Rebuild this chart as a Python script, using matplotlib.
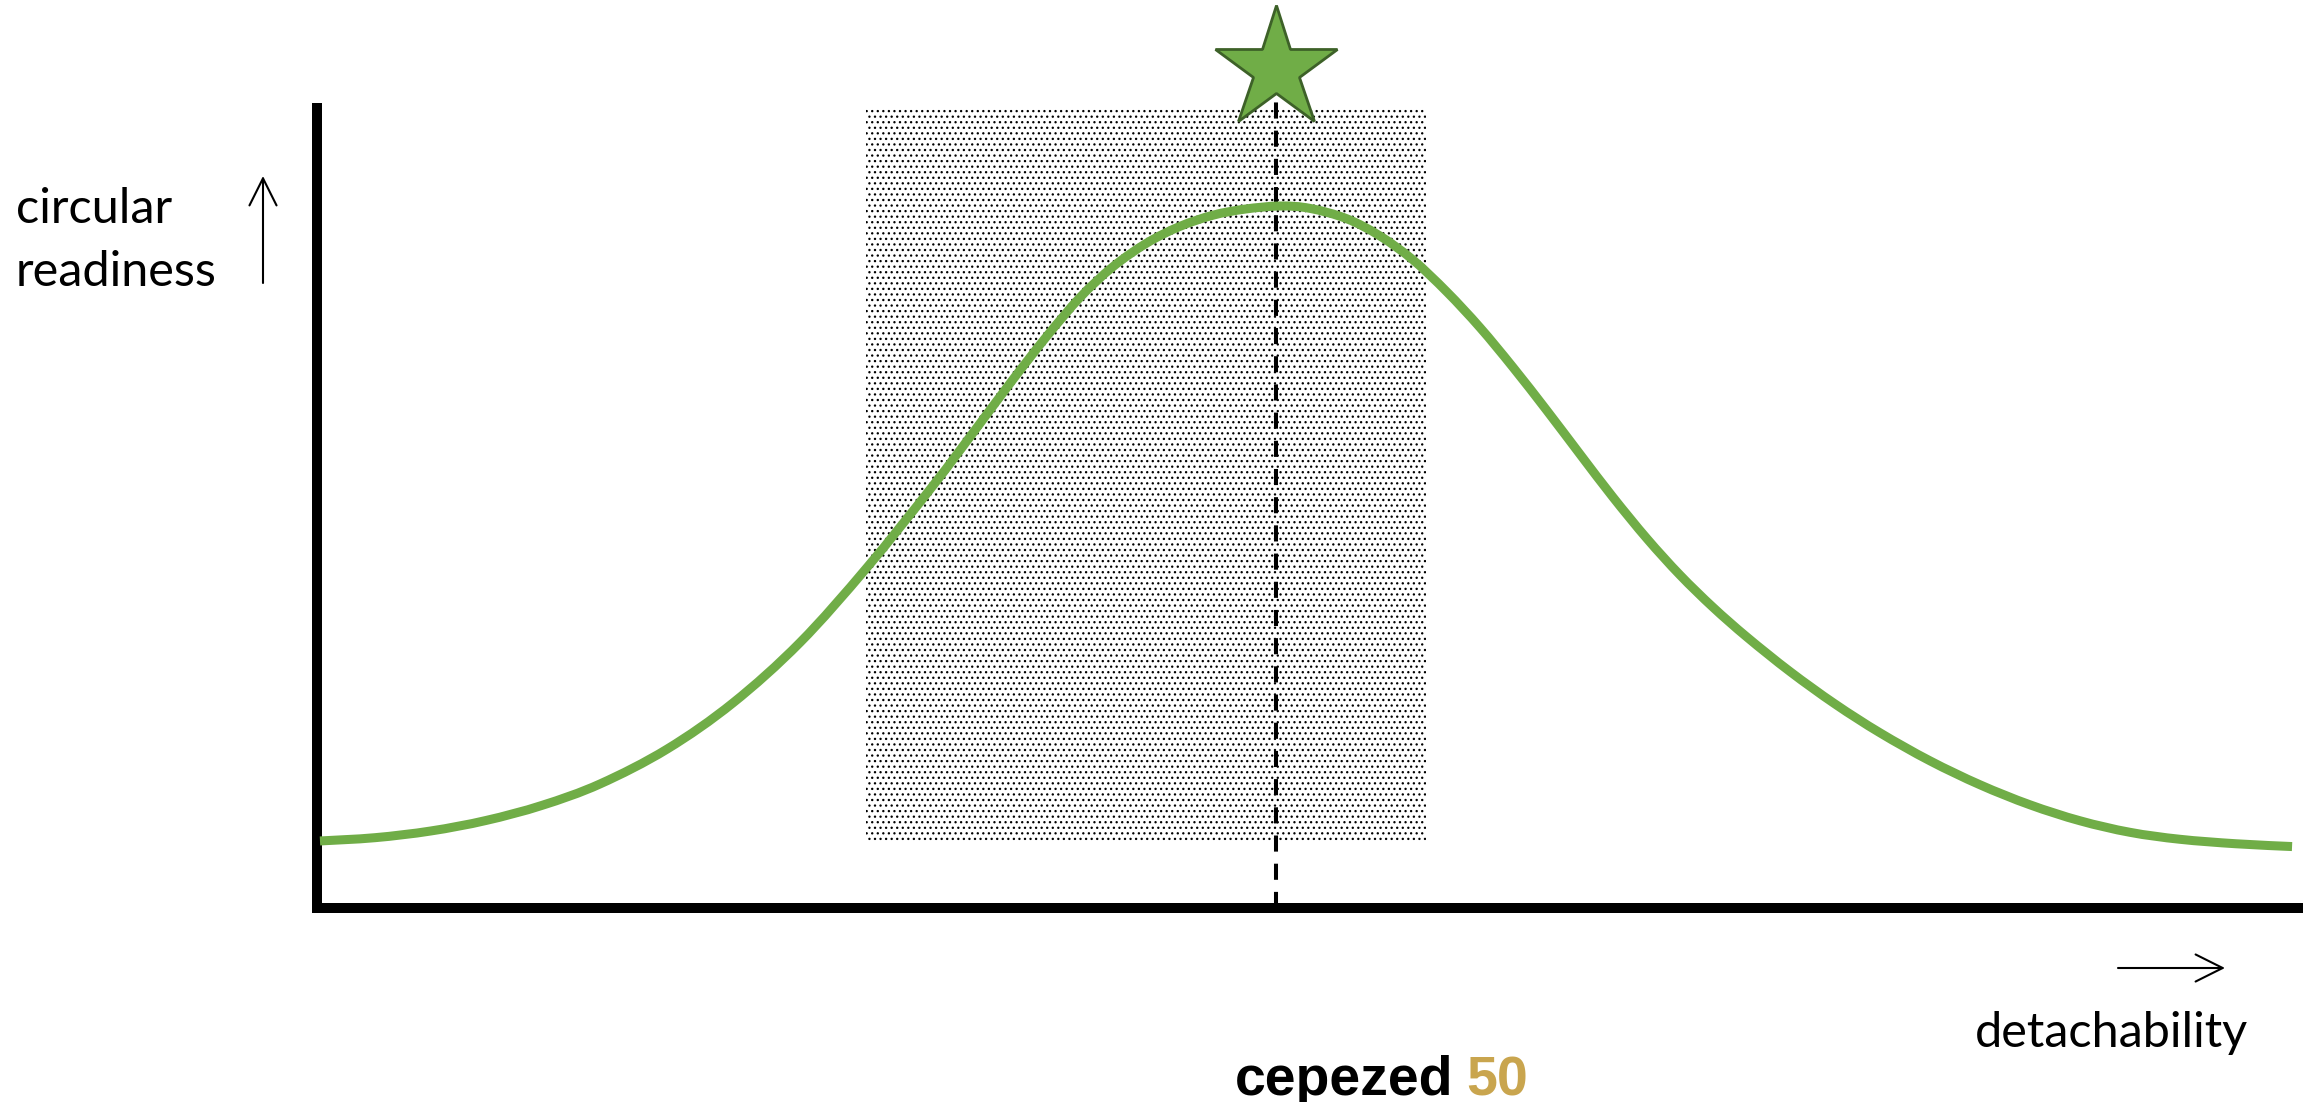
import matplotlib.pyplot as plt
import numpy as np
from matplotlib.path import Path
from matplotlib.patches import PathPatch, FancyArrowPatch

# curve (x: detachability 0-100, y: circular readiness 0-100)
curve_x = [0.15, 2.93, 5.75, 8.53, 11.36, 14.29, 17.67, 21.0, 24.38, 27.76, 31.1, 33.32,
           35.13, 36.85, 38.52, 40.18, 41.9, 43.56, 45.23, 46.84, 48.61, 50.13, 51.99,
           53.66, 55.33, 57.04, 58.71, 60.37, 62.09, 63.76, 65.42, 67.14, 68.8, 70.47,
           72.19, 74.36, 76.63, 78.9, 81.42, 83.95, 86.47, 89.0, 91.52, 94.04, 96.87, 99.7]
curve_y = [8.38, 8.79, 9.63, 10.94, 12.83, 15.51, 19.86, 25.64, 33.18, 42.55, 52.81, 60.08,
           66.06, 71.5, 76.33, 80.16, 83.14, 85.2, 86.6, 87.36, 87.75, 87.45, 86.15,
           84.0, 81.0, 77.0, 72.55, 67.6, 62.16, 56.71, 51.35, 46.16, 41.63, 37.59,
           33.85, 29.55, 25.5, 21.9, 18.4, 15.4, 12.9, 10.9, 9.46, 8.59, 8.03, 7.68]

# shaded zone and optimum marker
zone_x = [27.7, 56.0]
zone_y = [8.1, 100.0]
optimum_x = 48.4
optimum_star_y = 104.9
dash_y = [0, 101]

green = '#70AD47'
plt.rcParams['hatch.linewidth'] = 0.9
plt.rcParams['hatch.color'] = 'black'


def smooth_path(xs, ys):
    # smooth line through the read points (Catmull-Rom drawn as cubic Bezier segments)
    pts = np.column_stack([xs, ys])
    verts = [pts[0]]
    codes = [Path.MOVETO]
    for i in range(len(pts) - 1):
        p0 = pts[i - 1] if i > 0 else pts[i]
        p1 = pts[i]
        p2 = pts[i + 1]
        p3 = pts[i + 2] if i + 2 < len(pts) else pts[i + 1]
        verts += [p1 + (p2 - p0) / 6, p2 - (p3 - p1) / 6, p2]
        codes += [Path.CURVE4] * 3
    return Path(verts, codes)


fig = plt.figure(figsize=(23.05, 11.02), dpi=100)
ax = fig.add_axes([317 / 2305, 194 / 1102, 1981 / 2305, 800 / 1102])
ax.set_xlim(0, 100)
ax.set_ylim(0, 100)

# dotted zone
ax.fill_between(zone_x, zone_y[0], zone_y[1], facecolor='none', edgecolor='black',
                hatch='...', linewidth=0, zorder=1)

# dashed optimum line
ax.plot([optimum_x, optimum_x], dash_y, color='black', linewidth=2.9,
        dashes=(4, 3), zorder=2, clip_on=False)

# curve
ax.add_patch(PathPatch(smooth_path(curve_x, curve_y), facecolor='none', edgecolor=green,
                       linewidth=6.5, capstyle='butt', joinstyle='round', zorder=3,
                       clip_on=False))

# star
ax.plot([optimum_x], [optimum_star_y], marker='*', markersize=92,
        markerfacecolor=green, markeredgecolor='#3D6128', markeredgewidth=2.0,
        zorder=5, clip_on=False)

for side in ['top', 'right']:
    ax.spines[side].set_visible(False)
for side in ['left', 'bottom']:
    ax.spines[side].set_linewidth(7.2)
    ax.spines[side].set_color('black')
ax.spines['bottom'].set_capstyle('projecting')
ax.set_xticks([])
ax.set_yticks([])
ax.patch.set_alpha(0)

lab_font = dict(family=['Lato', 'DejaVu Sans'], fontsize=35, color='black')
fig.text(16 / 2305, 1 - 223 / 1102, 'circular', ha='left', va='baseline', **lab_font)
fig.text(16 / 2305, 1 - 286 / 1102, 'readiness', ha='left', va='baseline', **lab_font)
fig.text(1975 / 2305, 1 - 1047 / 1102, 'detachability', ha='left', va='baseline', **lab_font)

# axis arrows
arrow_style = '->,head_length=1.0,head_width=0.5'
fig.add_artist(FancyArrowPatch(
    (263 / 2305, 1 - 283 / 1102), (263 / 2305, 1 - 176 / 1102),
    transform=fig.transFigure, arrowstyle=arrow_style, mutation_scale=19.5,
    linewidth=1.5, color='black', shrinkA=0, shrinkB=0))
fig.add_artist(FancyArrowPatch(
    (2118 / 2305, 1 - 968 / 1102), (2225 / 2305, 1 - 968 / 1102),
    transform=fig.transFigure, arrowstyle=arrow_style, mutation_scale=19.5,
    linewidth=1.5, color='black', shrinkA=0, shrinkB=0))

# logo
logo_font = dict(family=['Liberation Sans', 'DejaVu Sans'], fontsize=40, fontweight='bold')
fig.text(1235 / 2305, 1 - 1095 / 1102, 'cepezed', ha='left', va='baseline',
         color='black', **logo_font)
fig.text(1466 / 2305, 1 - 1095 / 1102, '50', ha='left', va='baseline',
         color='#C9A54E', **logo_font)

fig.savefig('out.png', dpi=100, facecolor='white')
